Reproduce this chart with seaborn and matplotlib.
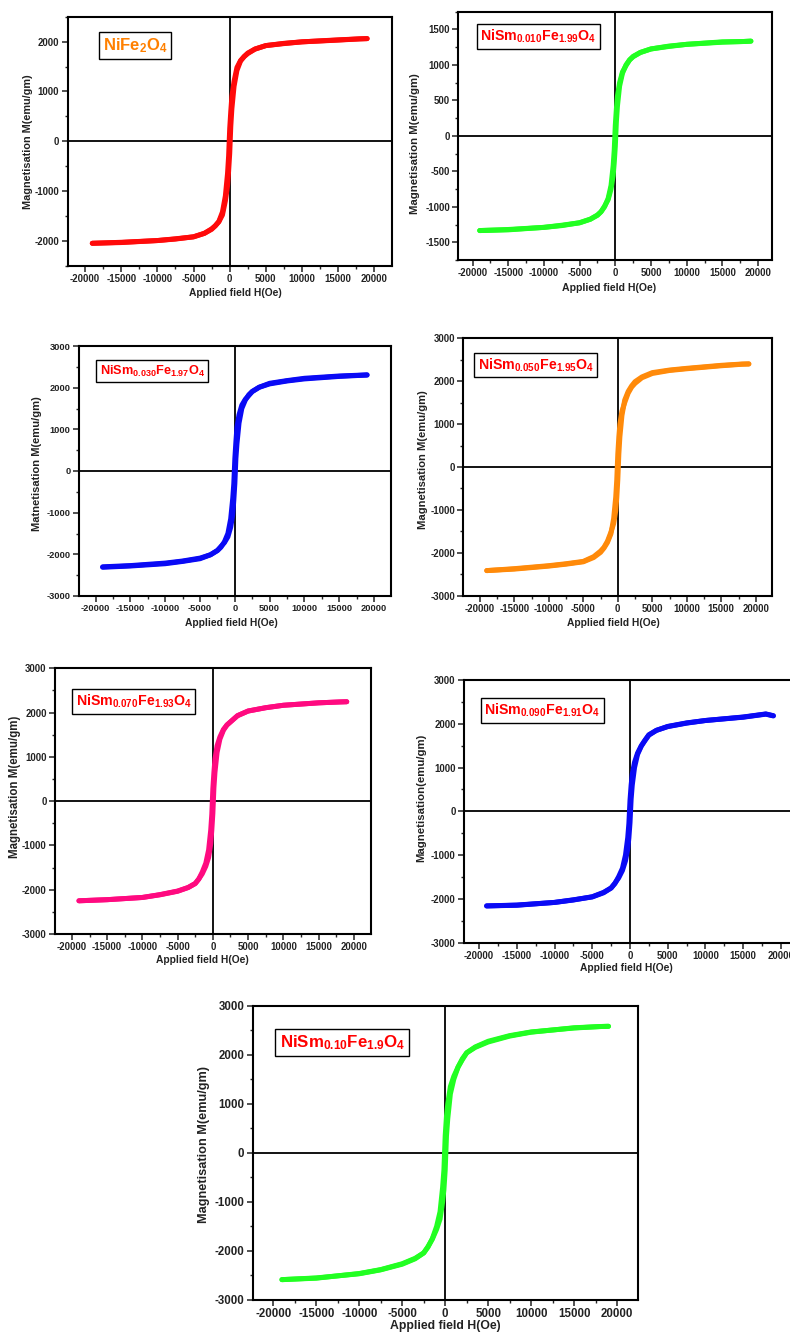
import pandas as pd
import seaborn as sns
import matplotlib.pyplot as plt
from matplotlib.ticker import MultipleLocator

OUT_PATH = 'out.png'

# applied field grid (Oe), shared by every loop
H_FIELD = [-19000, -15000, -10000, -7500, -5000, -3500, -2500, -2000, -1500, -1000,
           -600, -300, -150, 0, 150, 300, 600, 1000, 1500, 2000, 2500, 3500,
           5000, 7500, 10000, 15000, 18000, 19000]

# magnetisation (emu/gm), descending branch (DOWN) and ascending branch (UP)
DOWN_000 = [-2050, -2035, -1995, -1965, -1920, -1850, -1770, -1700, -1610, -1420, -1100, -650, -300,
            250, 600, 900, 1200, 1480, 1620, 1700, 1760, 1850, 1920, 1960, 1995, 2030, 2055, 2060]
UP_000 = [-2050, -2030, -1995, -1960, -1920, -1850, -1760, -1700, -1620, -1480, -1200, -900, -600,
          -250, 300, 650, 1100, 1420, 1610, 1700, 1770, 1850, 1920, 1965, 1995, 2035, 2055, 2060]

DOWN_010 = [-1335, -1325, -1290, -1265, -1225, -1175, -1115, -1070, -1000, -880, -700, -420, -200,
            150, 380, 560, 750, 900, 990, 1070, 1120, 1175, 1225, 1260, 1290, 1320, 1330, 1335]
UP_010 = [-1335, -1320, -1290, -1260, -1225, -1175, -1120, -1070, -990, -900, -750, -560, -380,
          -150, 200, 420, 700, 880, 1000, 1070, 1115, 1175, 1225, 1265, 1290, 1325, 1330, 1335]

DOWN_030 = [-2300, -2270, -2210, -2160, -2090, -2010, -1910, -1830, -1700, -1500, -1150, -650, -300,
            300, 700, 1050, 1350, 1580, 1720, 1810, 1905, 2010, 2105, 2170, 2225, 2280, 2300, 2310]
UP_030 = [-2310, -2280, -2225, -2170, -2105, -2010, -1905, -1810, -1720, -1580, -1350, -1050, -700,
          -300, 300, 650, 1150, 1500, 1700, 1830, 1910, 2010, 2090, 2160, 2210, 2270, 2295, 2300]

DOWN_050 = [-2415, -2380, -2310, -2265, -2210, -2110, -1990, -1890, -1760, -1560, -1200, -700, -300,
            300, 700, 1000, 1300, 1500, 1720, 1860, 1950, 2080, 2180, 2250, 2290, 2360, 2395, 2400]
UP_050 = [-2415, -2370, -2300, -2255, -2200, -2090, -1960, -1870, -1730, -1520, -1320, -1020, -720,
          -300, 300, 700, 1200, 1560, 1760, 1890, 1990, 2100, 2200, 2260, 2300, 2370, 2400, 2405]

DOWN_070 = [-2250, -2225, -2175, -2110, -2030, -1950, -1860, -1760, -1600, -1400, -1100, -650, -300,
            280, 650, 950, 1250, 1450, 1620, 1720, 1790, 1930, 2035, 2110, 2165, 2220, 2240, 2245]
UP_070 = [-2250, -2225, -2175, -2115, -2035, -1950, -1860, -1760, -1640, -1470, -1270, -960, -660,
          -280, 300, 650, 1100, 1400, 1600, 1720, 1790, 1930, 2035, 2110, 2165, 2220, 2240, 2245]

DOWN_090 = [-2160, -2140, -2080, -2020, -1955, -1860, -1750, -1650, -1490, -1300, -1000, -600, -280,
            250, 600, 850, 1120, 1330, 1500, 1630, 1750, 1850, 1940, 2020, 2075, 2155, 2225, 2185]
UP_090 = [-2160, -2145, -2080, -2025, -1950, -1850, -1750, -1640, -1520, -1350, -1130, -860, -610,
          -260, 280, 600, 1000, 1300, 1490, 1620, 1740, 1850, 1935, 2015, 2075, 2150, 2220, 2180]

DOWN_100 = [-2585, -2555, -2460, -2380, -2260, -2150, -2040, -1920, -1750, -1500, -1200, -700, -350,
            350, 750, 1000, 1350, 1560, 1750, 1900, 2040, 2160, 2275, 2390, 2465, 2545, 2575, 2580]
UP_100 = [-2585, -2550, -2465, -2385, -2270, -2160, -2040, -1910, -1760, -1560, -1350, -1000, -750,
          -350, 350, 700, 1200, 1500, 1750, 1920, 2040, 2150, 2260, 2380, 2460, 2550, 2575, 2580]

SAMPLE_LABELS = [r'NiFe$_2$O$_4$',
                 r'NiSm$_{0.010}$Fe$_{1.99}$O$_4$',
                 r'NiSm$_{0.030}$Fe$_{1.97}$O$_4$',
                 r'NiSm$_{0.050}$Fe$_{1.95}$O$_4$',
                 r'NiSm$_{0.070}$Fe$_{1.93}$O$_4$',
                 r'NiSm$_{0.090}$Fe$_{1.91}$O$_4$',
                 r'NiSm$_{0.10}$Fe$_{1.9}$O$_4$']
Y_LABELS = ['Magnetisation M(emu/gm)', 'Magnetisation M(emu/gm)', 'Matnetisation M(emu/gm)',
            'Magnetisation M(emu/gm)', 'Magnetisation M(emu/gm)', 'Magnetisation(emu/gm)',
            'Magnetisation M(emu/gm)']
X_LABEL = 'Applied field H(Oe)'
BRANCHES = [(DOWN_000, UP_000), (DOWN_010, UP_010), (DOWN_030, UP_030), (DOWN_050, UP_050),
            (DOWN_070, UP_070), (DOWN_090, UP_090), (DOWN_100, UP_100)]

# styling / layout (pixels in a 790x1332 canvas)
CURVE_COLORS = ['#ff0a0a', '#22ff22', '#0a0af5', '#ff8a0a', '#ff0a80', '#0a0af5', '#22ff22']
LABEL_COLORS = ['#ff8000'] + ['#ff0000'] * 6
# left, top, right, bottom of each axes box
BOXES = [(67.7, 16.7, 391.7, 265.7), (458.3, 11.7, 772.3, 260), (79, 346, 390.7, 596),
         (463.3, 338.3, 772.3, 595.7), (55, 668.3, 370.7, 934), (464, 680, 796, 942.7),
         (252.7, 1005.7, 637.7, 1300)]
XLIMS = [22400, 22000, 22400, 22400, 22400, 22000, 22400]
YLIMS = [2500, 1750, 3000, 3000, 3000, 3000, 3000]
YSTEPS = [1000, 500, 1000, 1000, 1000, 1000, 1000]
LABEL_CENTERS = [(135, 45.5), (538.5, 36.5), (152.2, 371.2), (535.8, 365), (133.8, 701.7),
                 (542.2, 710.3), (342.2, 1042.3)]
LABEL_SIZES = [12, 10.2, 9.2, 10.2, 10.2, 10.2, 12.2]
YLAB_POS = [(28, 0.5), (415, 0.47), (37, 0.53), (423, 0.527), (15, 0.554), (421.7, 0.55), (204, 0.53)]
XLAB_POS = [(235, 293), (609, 288), (231, 622.7), (613, 623.3), (202.5, 960), (626, 968.3), (445, 1326)]
TICK_SIZES = [6.9, 6.9, 6.7, 6.9, 6.9, 6.9, 8.3]
YLAB_SIZES = [7.8, 8.2, 8.0, 8.1, 8.3, 8.2, 9.2]
XLAB_SIZES = [7.4, 7.6, 7.4, 7.4, 7.4, 7.4, 8.8]

W, H = 790, 1332


def main():
    sns.set_style('ticks')
    plt.rcParams['font.family'] = ['Liberation Sans', 'DejaVu Sans']
    plt.rcParams['font.weight'] = 'bold'
    plt.rcParams['axes.unicode_minus'] = False
    plt.rcParams['mathtext.fontset'] = 'custom'
    plt.rcParams['mathtext.rm'] = 'Liberation Sans:bold'
    plt.rcParams['mathtext.it'] = 'Liberation Sans:bold'
    plt.rcParams['mathtext.bf'] = 'Liberation Sans:bold'
    plt.rcParams['mathtext.default'] = 'rm'

    fig = plt.figure(figsize=(W / 100, H / 100), dpi=100)

    for i, (down, up) in enumerate(BRANCHES):
        assert len(down) == len(H_FIELD) and len(up) == len(H_FIELD)
        l, t, r, b = BOXES[i]
        ax = fig.add_axes([l / W, 1 - b / H, (r - l) / W, (b - t) / H])

        df = pd.concat([
            pd.DataFrame({'H': H_FIELD, 'M': down, 'branch': 'down'}),
            pd.DataFrame({'H': H_FIELD, 'M': up, 'branch': 'up'}),
        ])
        c = CURVE_COLORS[i]
        sns.lineplot(data=df, x='H', y='M', hue='branch', palette=[c, c], estimator=None,
                     legend=False, lw=3.6, ax=ax, zorder=3)

        ax.axhline(0, color='black', lw=1.3, zorder=2)
        ax.axvline(0, color='black', lw=1.3, zorder=2)

        ax.set_xlim(-XLIMS[i], XLIMS[i])
        ax.set_ylim(-YLIMS[i], YLIMS[i])
        ax.xaxis.set_major_locator(MultipleLocator(5000))
        ax.xaxis.set_minor_locator(MultipleLocator(2500))
        ax.yaxis.set_major_locator(MultipleLocator(YSTEPS[i]))
        ax.yaxis.set_minor_locator(MultipleLocator(YSTEPS[i] / 2))
        ax.tick_params(which='major', direction='out', length=4, width=1.1,
                       labelsize=TICK_SIZES[i], colors='#222222', pad=2)
        ax.tick_params(which='minor', direction='out', length=2.5, width=1.0)
        for s in ax.spines.values():
            s.set_linewidth(1.5)
            s.set_color('black')

        ax.set_xlabel(X_LABEL, fontsize=XLAB_SIZES[i], fontweight='bold', va='center', color='#222222')
        ax.set_ylabel(Y_LABELS[i], fontsize=YLAB_SIZES[i], fontweight='bold', va='center', color='#222222')
        yx, yfrac = YLAB_POS[i]
        ax.yaxis.set_label_coords((yx - l) / (r - l), yfrac)
        xx, xy = XLAB_POS[i]
        ax.xaxis.set_label_coords((xx - l) / (r - l), (b - xy) / (b - t))

        cx, cy = LABEL_CENTERS[i]
        ax.text((cx - l) / (r - l), (b - cy) / (b - t), SAMPLE_LABELS[i], transform=ax.transAxes,
                ha='center', va='center', fontsize=LABEL_SIZES[i], color=LABEL_COLORS[i],
                fontweight='bold', zorder=5,
                bbox=dict(boxstyle='square,pad=0.25', fc='white', ec='black', lw=1.0))

    fig.savefig(OUT_PATH, dpi=100)


if __name__ == '__main__':
    main()
